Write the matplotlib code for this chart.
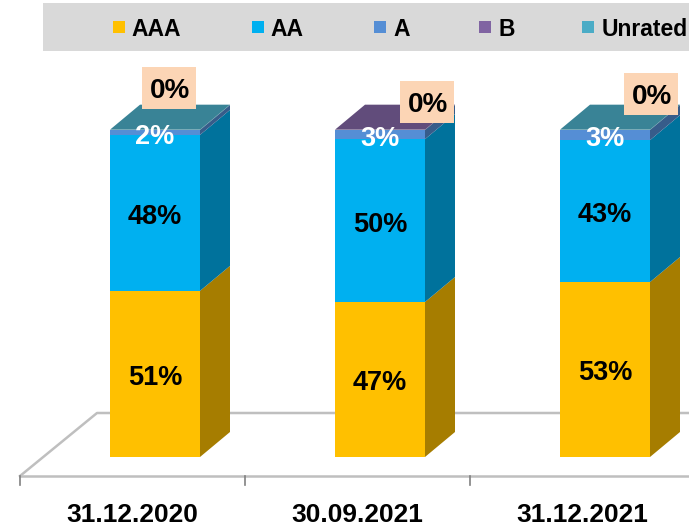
import matplotlib
matplotlib.use('Agg')
import matplotlib.pyplot as plt
from matplotlib.colors import to_rgb
from matplotlib.patches import Rectangle
from matplotlib.transforms import Affine2D
import numpy as np

plt.rcParams['font.family'] = ['Liberation Sans', 'DejaVu Sans']
plt.rcParams['font.weight'] = 'bold'

dates = ['31.12.2020', '30.09.2021', '31.12.2021']
series = ['AAA', 'AA', 'A', 'B', 'Unrated']
aaa = [50.8, 47.4, 53.5]
aa = [47.7, 49.8, 43.4]
a = [1.5, 2.8, 3.1]
b = [0.0, 0.1, 0.0]
unrated = [0.1, 0.0, 0.1]
values = [aaa, aa, a, b, unrated]

aaa_labels = ['51%', '47%', '53%']
aa_labels = ['48%', '50%', '43%']
a_labels = ['2%', '3%', '3%']
zero_labels = ['0%', '0%', '0%']

colors = ['#FFC000', '#00B0F0', '#558ED5', '#8064A2', '#4BACC6']


def shade(c, f):
    return tuple(v * f for v in to_rgb(c))


fig = plt.figure(figsize=(6.89, 5.26), dpi=100)
ax = fig.add_axes([0, 0, 1, 1])
ax.set_xlim((0 - 155) / 225, (689 - 155) / 225)
ax.set_ylim((457 - 526) / 3.27, 457 / 3.27)
ax.axis('off')

# pixels from the top left corner of the picture
px = Affine2D().scale(1, -1).translate(0, 526)

# floor of the fake 3d chart
ax.plot([20, 689], [476, 476], color='#BFBFBF', lw=1.8, transform=px, zorder=1)
ax.plot([20, 97, 689], [476, 413, 413], color='#BFBFBF', lw=1.8, transform=px, zorder=1)
for tx in [20, 245, 470]:
    ax.plot([tx, tx], [476, 485], color='#808080', lw=1.2, transform=px, zorder=1)

x = np.arange(len(dates))
width = 90 / 225
dx = 30 / 225
dy = 25 / 3.27

bottom = np.zeros(len(dates))
for vals, c in zip(values, colors):
    vals = np.array(vals)
    ax.bar(x, vals, width, bottom=bottom, color=c, zorder=3)
    for i in range(len(dates)):
        if vals[i] > 0:
            xr = x[i] + width / 2
            y0 = bottom[i]
            y1 = y0 + vals[i]
            ax.fill([xr, xr + dx, xr + dx, xr], [y0, y0 + dy, y1 + dy, y1],
                    color=shade(c, 0.65), lw=0, zorder=3)
    bottom = bottom + vals

# top face takes the colour of the highest series in the bar
for i in range(len(dates)):
    top_c = [c for vals, c in zip(values, colors) if vals[i] > 0][-1]
    xl = x[i] - width / 2
    xr = x[i] + width / 2
    t = bottom[i]
    ax.fill([xl, xr, xr + dx, xl + dx], [t, t, t + dy, t + dy],
            color=shade(top_c, 0.76), lw=0, zorder=3)

# value labels
for i in range(len(dates)):
    ax.text(x[i], aaa[i] / 2 - 1.2, aaa_labels[i], ha='center', va='center',
            fontsize=19.5, color='black', zorder=5)
    ax.text(x[i], aaa[i] + aa[i] / 2 - 1.2, aa_labels[i], ha='center', va='center',
            fontsize=19.5, color='black', zorder=5)
    ax.text(x[i], aaa[i] + aa[i] + a[i] / 2 - 1.3, a_labels[i], ha='center', va='center',
            fontsize=19.5, color='white', zorder=5)

# 0% boxes were moved by hand in the original
box_pos = [(142, 67), (400, 81), (624, 73)]
for (bx, by), lab in zip(box_pos, zero_labels):
    ax.add_patch(Rectangle((bx, by), 54, 42, transform=px, facecolor='#FCD5B5',
                           edgecolor='none', zorder=4))
    ax.text(bx + 28, by + 24, lab, transform=px, ha='center', va='center',
            fontsize=20, color='black', zorder=5)

# category labels
for i, d in enumerate(dates):
    ax.text(x[i], 0, d, transform=ax.get_xaxis_transform() + Affine2D().translate(-23, 11),
            ha='center', va='center', fontsize=19, color='black')

# legend strip
ax.add_patch(Rectangle((43, 3), 646, 48, transform=px, facecolor='#D9D9D9',
                       edgecolor='none', zorder=2))
swatch_x = [113, 252, 374, 479, 582]
text_x = [131, 270, 393, 498, 602]
for s, c, sx, tx in zip(series, colors, swatch_x, text_x):
    ax.add_patch(Rectangle((sx, 21), 12, 12, transform=px, facecolor=c,
                           edgecolor='none', zorder=3))
    ax.text(tx, 30, s, transform=px, ha='left', va='center', fontsize=16.5,
            color='black', zorder=3, clip_on=True)

fig.savefig('out.png', dpi=100)
